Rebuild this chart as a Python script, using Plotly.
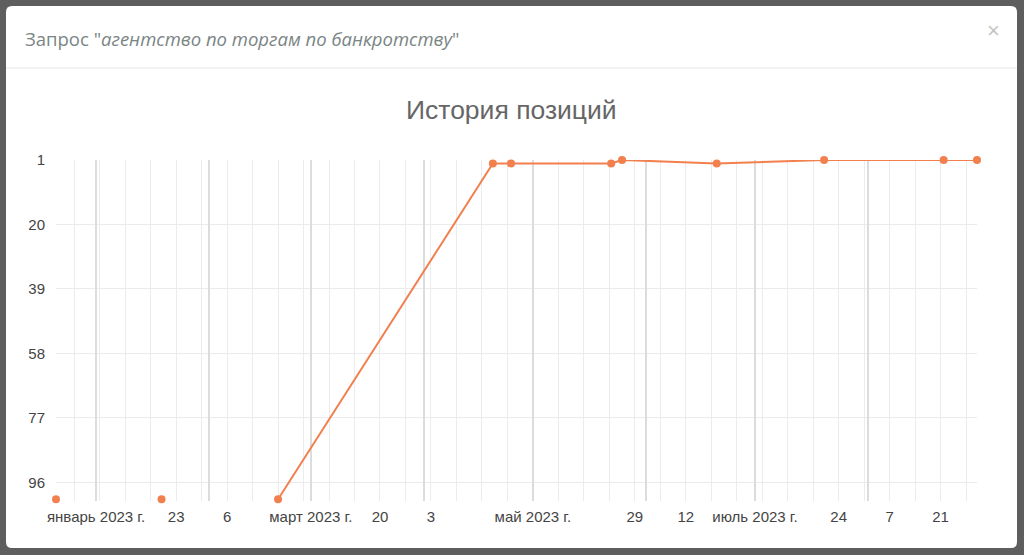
import plotly.graph_objects as go

# ---- data ----
dates = ["2022-12-21", "2023-01-19", "2023-02-20", "2023-04-20", "2023-04-25",
         "2023-05-22 12:00", "2023-05-25 12:00", "2023-06-20 12:00", "2023-07-20",
         "2023-08-21 20:00", "2023-08-31"]
positions = [101, 101, 101, 2, 2, 2, 1, 2, 1, 1, 1]

x_tick_vals = ["2023-01-01", "2023-01-23", "2023-02-06", "2023-03-01", "2023-03-20",
               "2023-04-03", "2023-05-01", "2023-05-29", "2023-06-12", "2023-07-01",
               "2023-07-24", "2023-08-07", "2023-08-21"]
x_tick_text = ["январь 2023 г.", "23", "6", "март 2023 г.", "20", "3", "май 2023 г.",
               "29", "12", "июль 2023 г.", "24", "7", "21"]
month_starts = ["2023-01-01", "2023-02-01", "2023-03-01", "2023-04-01", "2023-05-01",
                "2023-06-01", "2023-07-01", "2023-08-01"]
y_tick_vals = [1, 20, 39, 58, 77, 96]
MAX_POS = 100  # positions beyond this are "not in top 100"; their mutual segments are not drawn

title_text = "История позиций"
query_text = "агентство по торгам по банкротству"

# ---- layout geometry ----
W, H = 1024, 555
L, R, T, B = 56, 47, 160, 54
PW, PH = W - L - R, H - T - B


def px(x):
    return (x - L) / PW


def py(y):
    return (H - B - y) / PH


LINE = "#f2804f"

# line only between points where at least one end is inside the top-100
n = len(positions)
line_y = []
for i, v in enumerate(positions):
    near = [positions[j] for j in (i - 1, i, i + 1) if 0 <= j < n]
    line_y.append(v if any(p <= MAX_POS for p in near) else None)

fig = go.Figure()
fig.add_trace(go.Scatter(
    x=dates, y=line_y, mode="lines", connectgaps=False,
    line=dict(color=LINE, width=2), cliponaxis=False,
    showlegend=False, hoverinfo="skip",
))
fig.add_trace(go.Scatter(
    x=dates, y=positions, mode="markers",
    marker=dict(color=LINE, size=8),
    cliponaxis=False, showlegend=False, hoverinfo="x+y",
))
# invisible trace to anchor the month-grid overlay axis
fig.add_trace(go.Scatter(x=[dates[0]], y=[positions[-1]], xaxis="x2",
                         mode="markers", marker=dict(opacity=0),
                         showlegend=False, hoverinfo="skip"))

# modal rounded rectangle
x0, x1, y0, y1, r = 6, 1017, 6, 548, 6
path = (f"M {px(x0+r)},{py(y0)} L {px(x1-r)},{py(y0)} "
        f"Q {px(x1)},{py(y0)} {px(x1)},{py(y0+r)} "
        f"L {px(x1)},{py(y1-r)} Q {px(x1)},{py(y1)} {px(x1-r)},{py(y1)} "
        f"L {px(x0+r)},{py(y1)} Q {px(x0)},{py(y1)} {px(x0)},{py(y1-r)} "
        f"L {px(x0)},{py(y0+r)} Q {px(x0)},{py(y0)} {px(x0+r)},{py(y0)} Z")

shapes = [
    dict(type="path", xref="paper", yref="paper", path=path,
         fillcolor="white", line=dict(width=0), layer="below"),
    dict(type="line", xref="paper", yref="paper", x0=px(x0), x1=px(x1),
         y0=py(68), y1=py(68), line=dict(color="#e6e6e6", width=1), layer="below"),
]

annotations = [
    dict(xref="paper", yref="paper", x=px(23), y=py(38), xanchor="left", yanchor="middle",
         text=f'Запрос "<i>{query_text}</i>"', showarrow=False,
         font=dict(family="Open Sans", size=18.5, color="#7a8585")),
    dict(xref="paper", yref="paper", x=px(993), y=py(31), xanchor="center", yanchor="middle",
         text="×", showarrow=False,
         font=dict(family="Liberation Sans", size=22, color="#c4c4c4")),
    dict(xref="paper", yref="paper", x=px(511), y=py(110), xanchor="center", yanchor="middle",
         text=title_text, showarrow=False,
         font=dict(family="Liberation Sans", size=26.5, color="#666666")),
]

fig.update_layout(
    width=W, height=H,
    margin=dict(l=L, r=R, t=T, b=B, pad=0),
    paper_bgcolor="#5e5e5e",
    plot_bgcolor="rgba(0,0,0,0)",
    shapes=shapes, annotations=annotations,
    font=dict(family="Liberation Sans", color="#444444", size=15),
    xaxis=dict(
        type="date", range=["2022-12-21", "2023-08-31"],
        tickmode="array", tickvals=x_tick_vals, ticktext=x_tick_text,
        showgrid=False, zeroline=False, showline=False, ticks="",
        tickfont=dict(size=15, color="#444444"), ticklabelstandoff=5,
        minor=dict(tickmode="linear", tick0="2022-12-26", dtick=7 * 86400000,
                   showgrid=True, gridcolor="#ececec", gridwidth=1, ticks=""),
    ),
    xaxis2=dict(
        type="date", overlaying="x", matches="x",
        tickmode="array", tickvals=month_starts, showticklabels=False,
        showgrid=True, gridcolor="#dcdcdc", gridwidth=1.5, zeroline=False,
        showline=False, ticks="",
    ),
    yaxis=dict(
        range=[101.5, 1], tickmode="array", tickvals=y_tick_vals,
        showgrid=True, gridcolor="#ebebeb", gridwidth=1, zeroline=False,
        showline=False, ticks="", ticklabelstandoff=10,
        tickfont=dict(size=15, color="#444444"),
    ),
    hovermode="closest",
)

fig.write_html("out.html", config={"displayModeBar": False},
               post_script="document.body.style.margin='0';document.body.style.overflow='hidden';")
